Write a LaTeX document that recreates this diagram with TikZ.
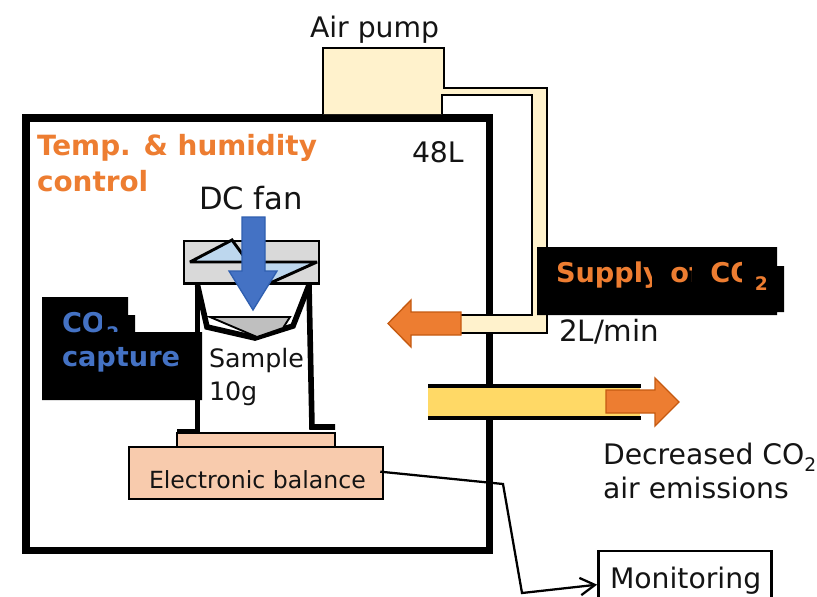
\documentclass[tikz,border=0pt]{standalone}
\usepackage{fontspec}
\usetikzlibrary{arrows.meta}
\setmainfont{DejaVu Sans}
\newcommand{\subtwo}[2]{\raisebox{#2}{\fontsize{#1}{#1}\selectfont 2}}
\tikzset{
  x=0.75pt,y=-0.75pt,
  txt/.style={anchor=base west,inner sep=0pt,outer sep=0pt,text=black!92,font=\fontsize{21.2pt}{21pt}\selectfont},
  smalltxt/.style={txt,font=\fontsize{17.7pt}{17.7pt}\selectfont},
  boldtxt/.style={txt,font=\fontsize{20.4pt}{20pt}\selectfont\bfseries},
  fatline/.style={line width=5.6pt,line cap=butt,miter limit=10},
  cupline/.style={line width=4.2pt,line join=miter,black},
  orangearrow/.style={fill=orangefill,draw=orangeedge,line width=1pt,line join=miter},
  thinbox/.style={draw=black,line width=1.8pt},
  fanblade/.style={line width=2.2pt,fill=lightblue,line join=miter,miter limit=1.5},
}
\definecolor{cream}{HTML}{FFF2CC}
\definecolor{pipeyellow}{HTML}{FFD966}
\definecolor{orangefill}{HTML}{ED7D31}
\definecolor{orangeedge}{HTML}{C55A11}
\definecolor{bluefill}{HTML}{4472C4}
\definecolor{blueedge}{HTML}{2F5FB0}
\definecolor{lightblue}{HTML}{BDD7EE}
\definecolor{peach}{HTML}{F8CBAD}
\definecolor{fangray}{HTML}{D9D9D9}
\definecolor{samplegray}{HTML}{BFBFBF}
\begin{document}
\begin{tikzpicture}
\useasboundingbox (0,0) rectangle (817,596);
\clip (0,0) rectangle (817,596);
\fill[white] (0,0) rectangle (817,596);
% chamber
\draw[fatline,miter limit=10] (26,118) rectangle (489.5,550.5);
% pump and tube
\fill[cream] (323,48) -- (444,48) -- (444,87) -- (547,87) -- (547,333) -- (461,333) -- (461,315) -- (532,315) -- (532,95) -- (442,95) -- (442,114) -- (323,114) -- cycle;
\draw[thinbox,line join=miter] (323,114) -- (323,48) -- (444,48) -- (444,88) -- (547,88) -- (547,333) -- (461,333);
\draw[thinbox,line join=miter] (442,114) -- (442,95) -- (532,95) -- (532,315) -- (461,315);
\node[txt] (pumplabel) at (310,37) {Air pump};
% labels in chamber
\node[boldtxt,font=\fontsize{20.9pt}{20pt}\selectfont\bfseries,text=orangefill] (templabel) at (37,155) {Temp. \& humidity};
\node[boldtxt,font=\fontsize{20.9pt}{20pt}\selectfont\bfseries,text=orangefill] (controllabel) at (37,191) {control};
\node[txt] (vollabel) at (412,162) {48L};
\node[txt,font=\fontsize{23pt}{23pt}\selectfont] (fanlabel) at (199,209) {DC fan};
% yellow pipe
\fill[white] (486,384) rectangle (493,419);
\fill[pipeyellow] (428,387) rectangle (640,417);
\draw[line width=3pt] (428,385.5) -- (641,385.5) (428,418) -- (641,418);
% right arrow
\draw[orangearrow] (606,390) -- (655,390) -- (655,378) -- (679,402) -- (655,426) -- (655,413) -- (606,413) -- cycle;
% left arrow
\draw[orangearrow] (461,312) -- (411,312) -- (411,300) -- (388,323.5) -- (411,347) -- (411,335) -- (461,335) -- cycle;
% fan
\draw[line width=2.2pt,fill=fangray] (184,241) rectangle (319,283.5);
\draw[fanblade] (190,262) -- (232,240) -- (248,262) -- cycle;
\draw[fanblade] (248,262) -- (317,262) -- (268,284) -- cycle;
% cup
\draw[cupline] (177,431.5) -- (197.5,431.5) -- (197.5,285);
\draw[cupline] (335,427) -- (312,427) -- (309,285);
\draw[cupline] (197.5,285) -- (207,327) -- (255,338) -- (293,326) -- (309,285);
\draw[line width=1.4pt,fill=samplegray,line join=miter] (210,317) -- (290,317) -- (283,328) -- (257,337) -- cycle;
% big blue arrow
\draw[fill=bluefill,draw=blueedge,line width=1pt,line join=miter] (242,217) -- (265,217) -- (265,271) -- (277,271) -- (253,310) -- (229,271) -- (242,271) -- cycle;
% sample
\node[txt,font=\fontsize{19pt}{19pt}\selectfont] (samplelabel) at (209,367) {Sample};
\node[txt,font=\fontsize{19pt}{19pt}\selectfont] (masslabel) at (209,400) {10g};
% balance
\draw[line width=1.6pt,fill=peach] (177,433) rectangle (335,449);
\node[draw=black,line width=1.4pt,fill=peach,minimum width=191pt,minimum height=39pt,inner sep=0pt] (balance) at (256,473) {};
\node[smalltxt] (ballabel) at (149,488) {Electronic balance};
% capture patch
\fill[black] (42,297) -- (128,297) -- (128,315) -- (135,315) -- (135,332) -- (202,332) -- (202,400) -- (42,400) -- cycle;
\node[boldtxt,text=bluefill] (co2cap) at (62,332) {CO\kern1pt\subtwo{14pt}{-6pt}};
\fill[black] (102,305) rectangle (106,333);
\fill[black] (100,332) rectangle (125,348);
\node[boldtxt,text=bluefill] (caplabel) at (62,366) {capture};
% supply patch
\fill[black] (537,247) -- (777,247) -- (777,266) -- (784,266) -- (784,312) -- (777,312) -- (777,315) -- (537,315) -- cycle;
\node[boldtxt,text=orangefill] (supply) at (556,282) {Supply of CO\kern1pt\subtwo{14pt}{-6pt}};
\fill[black] (652,255) rectangle (662,296);
\fill[black] (692,255) rectangle (708,296);
\fill[black] (742,255) rectangle (752,296);
% other labels
\node[txt,font=\fontsize{22pt}{22pt}\selectfont] (ratelabel) at (559,341) {2L/min};
\node[txt] (declabel) at (603,464) {Decreased CO\subtwo{14pt}{-0.28em}};
\node[txt] (airlabel) at (603,498) {air emissions};
% monitoring
\node[thinbox,minimum width=130pt,minimum height=37.5pt,inner sep=0pt] (monitor) at (685,576) {};
\node[txt] (monlabel) at (610,588) {Monitoring};
\coordinate (w1) at (503,484);
\coordinate (w2) at (522,593);
\draw[line width=1.7pt,line join=miter,-{Straight Barb[length=11pt,width=13pt]}] ([xshift=-3pt,yshift=1pt]balance.east) -- (w1) -- (w2) -- ([yshift=-6.5pt]monitor.west);
\end{tikzpicture}
\end{document}
